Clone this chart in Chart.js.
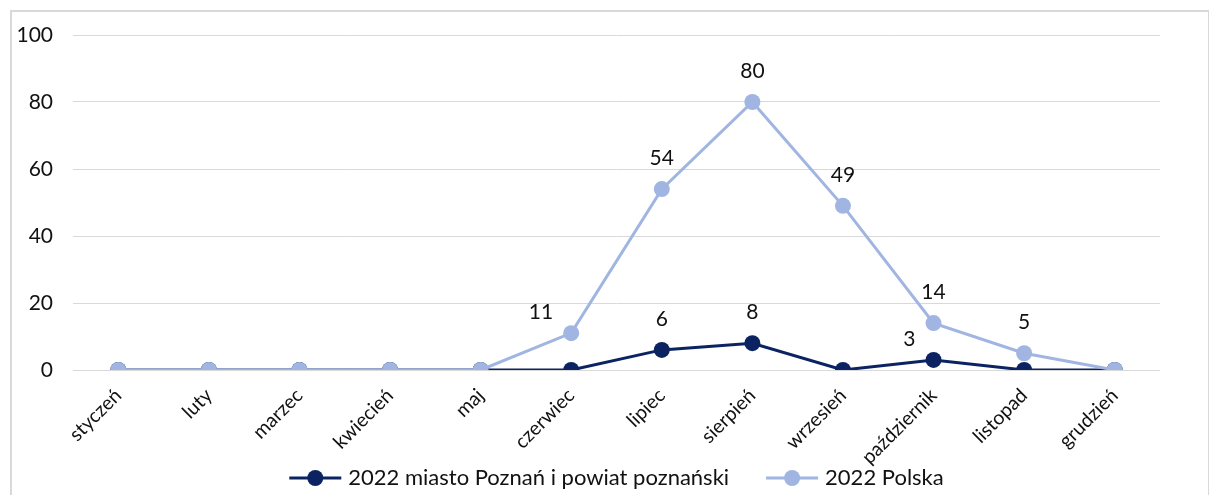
<!DOCTYPE html>
<html>
<head>
<meta charset="utf-8">
<script src="https://cdn.jsdelivr.net/npm/chart.js@4"></script>
<style>
  html, body { margin: 0; padding: 0; background: #fff; overflow: hidden; }
  #frame { position: absolute; left: 10px; top: 10px; width: 1200px; height: 500px; border: 2px solid #d9d9d9; box-sizing: border-box; }
  #wrap { position: absolute; left: 0; top: 0; width: 1209px; height: 495px; }
</style>
</head>
<body>
<div id="frame"></div>
<div id="wrap"><canvas id="chart"></canvas></div>
<script>
// Données
const months = ['styczeń', 'luty', 'marzec', 'kwiecień', 'maj', 'czerwiec', 'lipiec', 'sierpień', 'wrzesień', 'październik', 'listopad', 'grudzień'];
const poznan = [0, 0, 0, 0, 0, 0, 6, 8, 0, 3, 0, 0];
const polska = [0, 0, 0, 0, 0, 11, 54, 80, 49, 14, 5, 0];
const yTicks = [0, 20, 40, 60, 80, 100];

const darkBlue = '#0b2461';
const lightBlue = '#a0b5e1';
const font = 'Lato';
const textColor = '#111';

// étiquettes de valeurs (sans plugin externe)
const labelSide = { 0: { 9: 'left' }, 1: { 5: 'left' } };
const valueLabels = {
    id: 'valueLabels',
    afterDatasetsDraw(chart) {
        const ctx = chart.ctx;
        ctx.save();
        ctx.font = '21px ' + font;
        ctx.fillStyle = textColor;
        ctx.textAlign = 'center';
        ctx.textBaseline = 'middle';
        chart.data.datasets.forEach((ds, di) => {
            const meta = chart.getDatasetMeta(di);
            meta.data.forEach((pt, i) => {
                const v = ds.data[i];
                if (!v) return;
                const txt = String(v);
                const side = (labelSide[di] || {})[i];
                if (side === 'left') {
                    const w = ctx.measureText(txt).width;
                    ctx.fillText(txt, pt.x - 18 - w / 2, pt.y - 21);
                } else {
                    ctx.fillText(txt, pt.x, pt.y - 31);
                }
            });
        });
        ctx.restore();
    }
};

// légende en bas : ligne + cercle, comme dans Excel
const bottomLegend = {
    id: 'bottomLegend',
    afterDraw(chart) {
        const ctx = chart.ctx;
        const area = chart.chartArea;
        const y = 478;
        const lineW = 52, gapText = 7, gapItem = 37;
        ctx.save();
        ctx.font = '22px ' + font;
        const items = chart.data.datasets.map(ds => ({
            text: ds.label,
            color: ds.borderColor,
            w: lineW + gapText + ctx.measureText(ds.label).width,
        }));
        const total = items.reduce((s, it) => s + it.w, 0) + gapItem * (items.length - 1);
        let x = (area.left + area.right) / 2 - total / 2;
        items.forEach(it => {
            ctx.strokeStyle = it.color;
            ctx.lineWidth = 3;
            ctx.beginPath();
            ctx.moveTo(x, y);
            ctx.lineTo(x + lineW, y);
            ctx.stroke();
            ctx.fillStyle = it.color;
            ctx.beginPath();
            ctx.arc(x + lineW / 2, y, 8, 0, Math.PI * 2);
            ctx.fill();
            ctx.fillStyle = textColor;
            ctx.textAlign = 'left';
            ctx.textBaseline = 'middle';
            ctx.fillText(it.text, x + lineW + gapText, y);
            x += it.w + gapItem;
        });
        ctx.restore();
    }
};

const ctx = document.getElementById('chart').getContext('2d');
new Chart(ctx, {
    type: 'line',
    data: {
        labels: months,
        datasets: [
            {
                label: '2022 miasto Poznań i powiat poznański',
                data: poznan,
                borderColor: darkBlue,
                backgroundColor: darkBlue,
                borderWidth: 3,
                pointRadius: 8,
                pointHoverRadius: 8,
                pointBorderWidth: 0,
                order: 1,
            },
            {
                label: '2022 Polska',
                data: polska,
                borderColor: lightBlue,
                backgroundColor: lightBlue,
                borderWidth: 3,
                pointRadius: 8,
                pointHoverRadius: 8,
                pointBorderWidth: 0,
                order: 0,
            },
        ],
    },
    options: {
        responsive: true,
        maintainAspectRatio: false,
        animation: false,
        layout: { padding: { left: 0, right: 49, top: 35, bottom: 0 } },
        plugins: {
            tooltip: { enabled: false },
            legend: { display: false },
        },
        scales: {
            x: {
                offset: true,
                grid: { display: false },
                border: { display: false },
                ticks: {
                    color: textColor,
                    font: { family: font, size: 19.5 },
                    minRotation: 45,
                    maxRotation: 45,
                    padding: 6,
                },
                afterFit(scale) { scale.height = 125; },
            },
            y: {
                min: 0,
                max: 100,
                afterBuildTicks(scale) { scale.ticks = yTicks.map(v => ({ value: v })); },
                grid: { color: '#d9d9d9', lineWidth: 1, drawTicks: false },
                border: { display: false },
                ticks: {
                    color: textColor,
                    font: { family: font, size: 21 },
                    padding: 20,
                },
                afterFit(scale) { scale.width = 73; },
            },
        },
    },
    plugins: [valueLabels, bottomLegend],
});
</script>
</body>
</html>
